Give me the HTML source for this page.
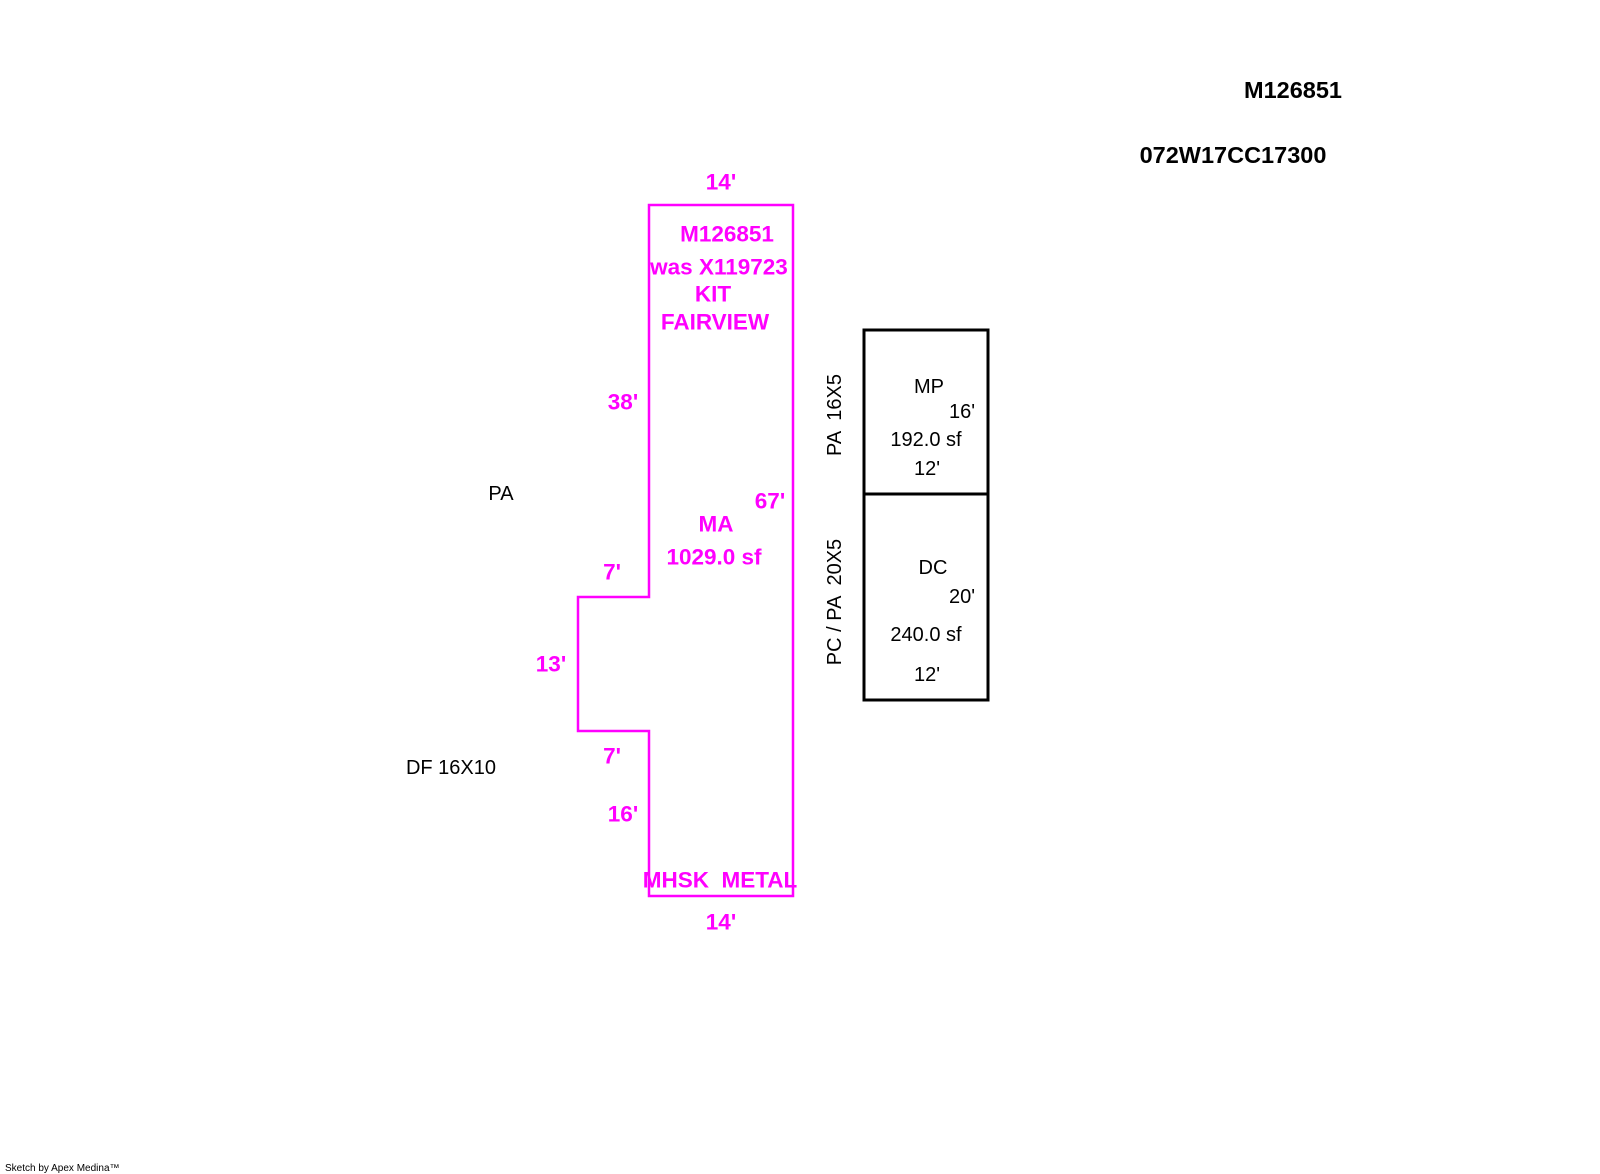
<!DOCTYPE html>
<html><head><meta charset="utf-8"><style>
html,body{margin:0;padding:0;background:#fff;}
svg{display:block}
.m{fill:#ff00ff;font-family:"Liberation Sans",sans-serif;font-weight:bold;font-size:22.5px;}
.k{fill:#000;font-family:"Liberation Sans",sans-serif;font-size:20px;}
.kb{fill:#000;font-family:"Liberation Sans",sans-serif;font-weight:bold;font-size:23.5px;}
</style></head><body>
<svg width="1600" height="1174" viewBox="0 0 1600 1174" xmlns="http://www.w3.org/2000/svg">
<g text-anchor="middle" dominant-baseline="central">
<text class="kb" x="1293" y="90">M126851</text>
<text class="kb" x="1233" y="155">072W17CC17300</text>

<polygon points="649,205 793,205 793,896 649,896 649,731 578,731 578,597 649,597" fill="none" stroke="#ff00ff" stroke-width="2.5"/>

<text class="m" x="721" y="182">14'</text>
<text class="m" x="727" y="234">M126851</text>
<text class="m" x="719" y="267">was X119723</text>
<text class="m" x="713" y="294">KIT</text>
<text class="m" x="715" y="322">FAIRVIEW</text>
<text class="m" x="623" y="402">38'</text>
<text class="m" x="770" y="501">67'</text>
<text class="m" x="716" y="524">MA</text>
<text class="m" x="714" y="557">1029.0 sf</text>
<text class="m" x="612" y="572">7'</text>
<text class="m" x="551" y="664">13'</text>
<text class="m" x="612" y="756">7'</text>
<text class="m" x="623" y="814">16'</text>
<text class="m" x="720" y="880" xml:space="preserve">MHSK  METAL</text>
<text class="m" x="721" y="922">14'</text>

<text class="k" x="501" y="494">PA</text>
<text class="k" x="451" y="768">DF 16X10</text>

<rect x="864" y="330" width="124" height="370" fill="none" stroke="#000" stroke-width="3"/>
<line x1="864" y1="494" x2="988" y2="494" stroke="#000" stroke-width="3"/>
<text class="k" x="929" y="387">MP</text>
<text class="k" x="962" y="412">16'</text>
<text class="k" x="926" y="440">192.0 sf</text>
<text class="k" x="927" y="469">12'</text>
<text class="k" x="933" y="568">DC</text>
<text class="k" x="962" y="597">20'</text>
<text class="k" x="926" y="635">240.0 sf</text>
<text class="k" x="927" y="675">12'</text>

<text class="k" x="0" y="0" transform="translate(835,415) rotate(-90)" xml:space="preserve">PA  16X5</text>
<text class="k" x="0" y="0" transform="translate(835,602) rotate(-90)" xml:space="preserve">PC / PA  20X5</text>
</g>
<text x="5" y="1171" font-family="Liberation Sans,sans-serif" font-size="10" fill="#000">Sketch by Apex Medina™</text>
</svg>
</body></html>
